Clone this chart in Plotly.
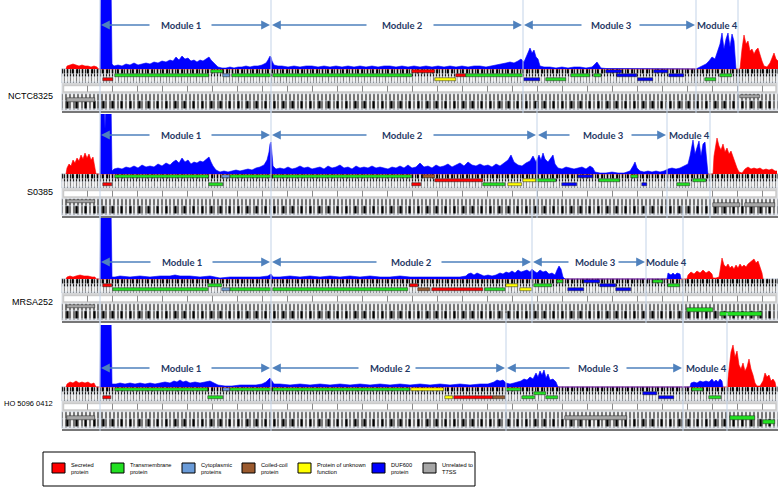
import plotly.graph_objects as go

W, H = 778, 487

genomes = ["NCTC8325", "S0385", "MRSA252", "HO 5096 0412"]

# ---------------- coverage profiles: (position, depth) ----------------
p1_blue = [(100,0),(101,90),(102,80),(103,90),(104,76),(105,90),(106,82),(107,90),(108,78),(109,90),(110,85),(111,90),(112,5),
(114,3),(118,4),(122,3),(126,5),(130,4),(134,6),(138,4),(142,5),(146,6),(150,5),(154,7),(158,6),(162,8),(166,7),(170,9),(173,8),(176,12),(179,9),(182,13),(185,10),(188,11),(191,8),(194,9),(197,7),(200,9),(203,8),(206,10),(209,12),(211,9),(214,6),(218,2),(222,1),(226,1),(230,2),(234,1),(238,2),(242,2),(246,3),(250,2),(254,3),(258,3),(262,4),(266,6),(268,9),(270,13),(271,12),(272,8),(274,4),(278,3),
(282,3),(288,2),(294,3),(300,2),(306,3),(312,3),(318,2),(324,3),(330,2),(336,3),(342,2),(348,3),(354,2),(360,3),(366,2),(372,3),(378,2),(384,3),(390,3),(396,2),(402,3),(408,2),(414,3),(420,2),(426,3),(432,2),(438,3),(444,2),(450,3),(456,2),(462,3),(468,2),(474,3),(480,3),(486,2),(492,3),(498,4),(502,5),(506,6),(510,7),(514,6),(518,8),(521,10),(524,7),(526,12),(528,18),(530,21),(532,16),(534,19),(536,12),(538,10),(540,3),(544,2),(550,2),(556,1),(562,2),(568,1),(574,2),(580,2),(586,1),(592,2),(595,5),(597,7),(599,4),(601,1),(606,0.5),(640,0.5),(680,0.3),(696,0),
(698,1),(702,3),(706,5),(709,8),(712,12),(715,10),(718,18),(720,25),(722,36),(724,20),(726,30),(728,36),(730,22),(732,35),(734,28),(736,0)]
p1_red = [(66,0),(67,3),(70,4),(73,5),(76,4),(79,3),(82,4),(85,3),(88,3),(91,2),(94,3),(97,2),(98,0),
(740,0),(742,20),(744,34),(746,25),(748,28),(750,18),(752,20),(754,15),(756,19),(758,21),(760,14),(762,8),(764,3),(767,2),(770,6),(772,12),(774,16),(776,10),(778,8)]

p2_blue = [(100,0),(101,75),(104,75),(105,45),(106,75),(111,75),(112,3),(114,5),(118,6),(122,5),(126,7),(130,6),(134,8),(138,6),(142,9),(146,7),(150,8),(154,7),(158,10),(162,8),(166,11),(170,9),(173,12),(176,14),(179,11),(182,16),(185,12),(188,14),(191,10),(194,12),(197,11),(200,13),(203,12),(206,15),(209,17),(211,12),(213,8),(216,4),(220,2),(224,3),(228,2),(232,3),(236,4),(240,3),(244,4),(248,5),(252,4),(256,6),(260,7),(264,9),(267,14),(269,22),(270,30),(271,32),(272,20),(273,8),(276,5),(280,6),(284,5),(288,7),(292,5),(296,6),(300,8),(304,6),(308,7),(312,5),(316,6),(320,7),(324,5),(328,8),(332,6),(336,7),(340,9),(344,6),(348,7),(352,5),(356,8),(360,6),(364,7),(368,6),(372,8),(376,6),(380,7),(384,6),(388,5),(392,7),(396,6),(400,8),(404,6),(408,9),(412,6),(416,7),(420,11),(424,7),(428,8),(432,6),(436,9),(440,7),(444,8),(448,10),(452,7),(456,9),(460,11),(464,8),(468,12),(472,9),(476,8),(480,10),(484,8),(488,9),(492,7),(496,10),(500,8),(504,11),(508,14),(511,19),(514,12),(518,9),(522,8),(526,11),(530,13),(533,18),(536,12),(539,19),(541,14),(543,21),(545,15),(548,12),(551,17),(553,19),(555,10),(558,6),(562,5),(566,7),(570,6),(574,5),(578,6),(582,7),(586,5),(590,8),(593,6),(595,2),(600,1),(606,1),(612,2),(618,1),(624,1),(630,3),(633,8),(635,12),(637,6),(640,3),(644,2),(648,3),(652,2),(656,3),(660,2),(664,3),(668,5),(672,6),(676,5),(680,6),(684,8),(688,10),(690,18),(692,28),(693,34),(695,20),(697,26),(699,33),(701,18),(703,30),(705,32),(707,14),(708,0)]
p2_red = [(66,0),(67,6),(69,10),(71,8),(73,14),(75,11),(77,16),(79,13),(81,19),(83,15),(85,21),(87,16),(89,20),(91,14),(93,17),(95,6),(96,0),
(713,0),(714,18),(716,30),(717,36),(719,28),(721,24),(723,30),(725,22),(727,26),(729,20),(731,23),(733,17),(735,12),(737,6),(739,2),(742,1),(745,5),(748,7),(751,5),(754,6),(757,5),(760,6),(763,4),(766,5),(769,4),(772,5),(775,3),(777,3)]

p3_blue = [(100,0),(101,75),(111,75),(112,2),(115,2),(120,3),(130,2),(140,3),(150,2),(160,3),(170,3),(175,4),(180,3),(190,3),(200,2),(210,3),(220,1),(230,2),(240,2),(250,2),(260,2),(268,3),(271,5),(273,2),(280,2),(290,3),(300,2),(310,3),(320,2),(330,3),(340,2),(350,3),(360,2),(370,3),(380,2),(390,2),(400,3),(410,2),(420,2),(430,2),(440,2),(450,2),(460,2),(466,3),(468,5),(471,6),(474,4),(477,6),(480,5),(484,3),(488,4),(492,3),(496,4),(500,6),(503,5),(506,7),(509,6),(512,8),(515,6),(518,9),(521,7),(524,8),(527,9),(530,7),(532,10),(534,8),(537,6),(540,9),(543,7),(546,8),(549,5),(552,6),(555,4),(557,9),(559,13),(561,10),(563,2),(565,0),
(667,0),(668,6),(671,4),(673,6),(675,4),(677,6),(680,5),(681,0)]
p3_red = [(66,0),(67,2),(70,3),(73,2),(76,3),(80,4),(84,3),(88,3),(92,2),(95,2),(96,0),
(687,0),(688,4),(691,7),(694,5),(697,8),(700,6),(703,9),(706,6),(709,8),(712,5),(713,1),(716,1),(719,2),(720,8),(721,18),(722,21),(724,14),(726,12),(728,15),(730,11),(732,13),(734,10),(736,14),(738,11),(740,15),(742,12),(744,14),(746,12),(748,15),(750,17),(752,19),(754,20),(756,16),(758,18),(760,12),(762,6),(763,0)]

p4_blue = [(100,0),(101,75),(111,75),(112,3),(116,3),(120,4),(125,3),(130,4),(135,3),(140,4),(145,3),(150,4),(155,3),(160,4),(165,5),(170,4),(174,6),(177,5),(180,7),(183,5),(186,6),(190,4),(195,5),(200,4),(205,5),(210,6),(214,4),(218,2),(225,1),(232,1),(240,2),(248,2),(256,2),(262,3),(266,5),(268,7),(270,9),(272,6),(274,3),(280,3),(290,2),(300,3),(310,2),(320,3),(330,2),(340,3),(350,2),(360,3),(370,2),(380,3),(390,2),(400,3),(410,2),(420,3),(430,2),(440,3),(450,2),(460,3),(470,2),(480,3),(488,3),(494,5),(497,7),(500,6),(503,7),(506,4),(510,3),(514,4),(518,5),(521,6),(524,8),(527,7),(530,10),(533,8),(536,14),(538,10),(540,16),(542,12),(544,17),(546,9),(548,13),(550,7),(553,8),(556,5),(558,0),
(690,0),(691,4),(694,5),(697,4),(700,6),(703,5),(706,6),(709,5),(712,8),(714,5),(716,7),(718,5),(720,8),(722,6),(723,0)]
p4_red = [(66,0),(67,3),(70,5),(73,4),(76,6),(79,4),(82,5),(85,4),(88,5),(91,3),(94,4),(96,0),
(727,0),(729,20),(731,35),(733,42),(735,30),(737,36),(739,22),(741,18),(743,24),(745,16),(747,20),(749,28),(751,18),(753,12),(755,4),(757,1),(760,1),(763,6),(765,14),(767,10),(769,12),(771,6),(773,8),(775,5),(776,0)]

# ---------------- genes: (start, end, row, category) ----------------
p1_genes = [(103,113,'C','sec'),(115,209,'B','tm'),(211,223,'A','tm'),(223,230,'B','cyto'),(232,271,'B','tm'),
(273,412,'B','tm'),(412,435,'A','sec'),(435,456,'C','unk'),(456,466,'B','sec'),(466,523,'B','tm'),
(524,540,'C','duf'),(546,566,'C','tm'),(571,590,'B','tm'),(594,601,'B','tm'),(606,622,'A','duf'),
(617,637,'B','duf'),(638,653,'C','duf'),(654,668,'A','duf'),(669,684,'B','duf'),(705,716,'C','tm'),
(720,732,'B','tm'),(67,95,'L1','unrel'),(740,760,'L0','unrel')]
p2_genes = [(103,112,'C','sec'),(115,209,'A','tm'),(209,223,'C','tm'),(222,230,'A','cyto'),(230,271,'A','tm'),
(273,412,'A','tm'),(412,421,'C','sec'),(423,435,'A','cc'),(435,483,'B','sec'),(483,505,'C','tm'),
(508,522,'C','unk'),(523,536,'B','unk'),(536,556,'B','tm'),(562,577,'C','duf'),(578,593,'A','duf'),
(599,620,'B','tm'),(631,638,'A','tm'),(642,647,'C','duf'),(677,690,'C','tm'),(693,706,'B','tm'),
(67,95,'L0','unrel'),(713,740,'L1','unrel'),(745,775,'L1','unrel')]
p3_genes = [(103,112,'B','sec'),(113,208,'C','tm'),(208,222,'B','tm'),(222,230,'C','cyto'),(230,271,'C','tm'),
(273,408,'C','tm'),(410,418,'B','sec'),(418,430,'C','cc'),(432,483,'C','sec'),(485,505,'C','tm'),
(506,518,'B','unk'),(520,532,'C','unk'),(534,552,'B','tm'),(557,563,'A','tm'),(568,584,'C','duf'),
(584,600,'A','duf'),(600,616,'B','duf'),(616,631,'C','duf'),(653,663,'A','tm'),(668,680,'B','tm'),
(67,95,'L0','unrel'),(687,713,'L1','tm'),(720,762,'L2','tm')]
p4_genes = [(103,111,'C','sec'),(115,208,'A','tm'),(208,223,'C','tm'),(223,230,'A','cyto'),(230,271,'A','tm'),
(273,410,'A','tm'),(411,444,'A','unk'),(445,453,'C','unk'),(454,493,'C','sec'),(493,505,'C','cc'),
(506,521,'A','tm'),(522,535,'C','tm'),(534,546,'B','tm'),(546,558,'C','tm'),(643,657,'B','duf'),
(659,674,'C','duf'),(692,703,'A','tm'),(709,721,'C','tm'),(67,95,'L1','unrel'),(565,627,'L1','unrel'),
(730,755,'L1','tm'),(763,775,'L2','tm')]

# ---------------- modules ----------------
p1_bounds = [100, 271, 523, 696, 738]
p2_bounds = [100, 271, 537, 667, 710]
p3_bounds = [100, 271, 532, 646, 683]
p4_bounds = [100, 271, 506, 683, 727]
p1_label_x = [181, 402, 611, 717]
p2_label_x = [181, 402, 603, 689]
p3_label_x = [182, 411, 595, 666]
p4_label_x = [181, 390, 598, 706]
p1_tails = [(151, 210), (368, 432), (583, 638)]
p2_tails = [(151, 210), (368, 432), (571, 630)]
p3_tails = [(152, 211), (378, 440), (570, 617)]
p4_tails = [(151, 210), (360, 414), (571, 625)]
module_names = ["Module 1", "Module 2", "Module 3", "Module 4"]

# ---------------- legend categories ----------------
cat_keys = ['sec', 'tm', 'cyto', 'cc', 'unk', 'duf', 'unrel']
cat_labels = ["Secreted<br>protein", "Transmembrane<br>protein", "Cytoplasmic<br>proteins",
              "Coiled-coil<br>protein", "Protein of unknown<br>function", "DUF600<br>protein",
              "Unrelated to<br>T7SS"]
cat_colors = ["#FF0000", "#22E022", "#6A9BD8", "#9B5A2E", "#FFFF00", "#0000FF", "#A6A6A6"]
color_of = dict(zip(cat_keys, cat_colors))

# ---------------- layout geometry (pixels) ----------------
panels_px = [(0, 69, 114), (114, 174, 218), (218, 279, 325), (325, 387, 432)]  # top, baseline, bottom
arrow_y = [44, 39, 17, 19]
label_py = [89, 192, 302, 410]
label_size = [9, 9, 9, 7.5]
row_y = {'A': -2.5, 'B': -6.5, 'C': -10.5, 'L0': -27.5, 'L1': -31, 'L2': -35}
X0, X1 = 62, 778

blues = [p1_blue, p2_blue, p3_blue, p4_blue]
reds = [p1_red, p2_red, p3_red, p4_red]
genes = [p1_genes, p2_genes, p3_genes, p4_genes]
bounds = [p1_bounds, p2_bounds, p3_bounds, p4_bounds]
label_xs = [p1_label_x, p2_label_x, p3_label_x, p4_label_x]
tails = [p1_tails, p2_tails, p3_tails, p4_tails]


def py(p):
    return 1 - p / H


def pxf(p):
    return p / W


def barcode(color_bg, size, solidity, fg='#1A1A1A'):
    return dict(color=color_bg, pattern=dict(shape='|', size=size, solidity=solidity,
                                             fgcolor=fg, bgcolor=color_bg, fillmode='replace'))


fig = go.Figure()
shapes = []
annotations = []
layout_axes = {}

for i in range(4):
    top, base, bot = panels_px[i]
    yname = 'y' if i == 0 else f'y{i+1}'
    ykey = 'yaxis' if i == 0 else f'yaxis{i+1}'
    layout_axes[ykey] = dict(domain=[py(bot), py(top)], range=[-(bot - base), base - top],
                             visible=False, fixedrange=True)
    common = dict(xaxis='x', yaxis=yname, hoverinfo='skip', showlegend=False, orientation='h')
    # track background
    fig.add_trace(go.Bar(base=[X0], x=[X1 - X0], y=[-21], width=[42], marker=dict(color='#D3D3D3'), **common))
    # upper gene barcode (three strand rows)
    fig.add_trace(go.Bar(base=[X0], x=[X1 - X0], y=[-7], width=[14], marker=barcode('#F4F4F4', 3, 0.42), **common))
    fig.add_trace(go.Bar(base=[X0], x=[X1 - X0], y=[-2.5], width=[5], marker=barcode('rgba(0,0,0,0)', 5, 0.3, '#000000'), **common))
    fig.add_trace(go.Bar(base=[X0], x=[X1 - X0], y=[-10.5], width=[5], marker=barcode('rgba(255,255,255,0.45)', 7, 0.5, 'rgba(255,255,255,0.5)'), **common))
    # ruler
    fig.add_trace(go.Bar(base=[X0 + 2], x=[X1 - X0 - 4], y=[-19.5], width=[6],
                         marker=dict(color='white', line=dict(color='#A8A8A8', width=0.5),
                                     pattern=dict(shape='|', size=25, solidity=0.04, fgcolor='#8A8A8A',
                                                  bgcolor='white', fillmode='replace')), **common))
    # lower barcode
    fig.add_trace(go.Bar(base=[X0], x=[X1 - X0], y=[-33], width=[16], marker=barcode('#EFEFEF', 4, 0.3, '#262626'), **common))
    fig.add_trace(go.Bar(base=[X0], x=[X1 - X0], y=[-36], width=[8], marker=barcode('rgba(0,0,0,0)', 9, 0.25, '#000000'), **common))
    # genes by category
    for k in cat_keys:
        gs = [g for g in genes[i] if g[3] == k]
        if not gs:
            continue
        fig.add_trace(go.Bar(base=[g[0] for g in gs], x=[g[1] - g[0] for g in gs],
                             y=[row_y[g[2]] for g in gs], width=[3.4] * len(gs),
                             marker=dict(color=color_of[k], line=dict(color='#222222', width=0.5)), **common))
    # coverage
    for prof, col in ((reds[i], '#FF0000'), (blues[i], '#0000FF')):
        xs, ys = zip(*prof)
        fig.add_trace(go.Scatter(x=list(xs), y=list(ys), mode='lines', fill='tozeroy',
                                 line=dict(color=col, width=0.6), fillcolor=col,
                                 xaxis='x', yaxis=yname, hoverinfo='skip', showlegend=False))
    # bottom rule of the panel
    shapes.append(dict(type='line', xref='x', yref=yname, x0=X0, x1=X1, y0=-43, y1=-43,
                       line=dict(color='#4A4A4A', width=1.5)))
    # module boundary lines
    for b in bounds[i]:
        shapes.append(dict(type='line', xref='x', yref='paper', x0=b, x1=b,
                           y0=py(base + 44), y1=min(1, py(top - 12)),
                           line=dict(color='#C3D3E8', width=1), layer='above'))
    # module labels
    for m in range(4):
        annotations.append(dict(x=label_xs[i][m], y=arrow_y[i], xref='x', yref=yname, text=module_names[m],
                                showarrow=False,
                                font=dict(family='Lato, Open Sans', size=9.5, color='#1F3864', weight='bold')))
    # module arrows
    for m in range(3):
        lt, rt = tails[i][m]
        for head, tail in ((bounds[i][m] + 1, lt), (bounds[i][m + 1] - 1, rt)):
            annotations.append(dict(x=head, y=arrow_y[i], xref='x', yref=yname, ax=tail, ay=arrow_y[i],
                                    axref='x', ayref=yname, text='', showarrow=True, arrowhead=2,
                                    arrowsize=1.1, arrowwidth=1.6, arrowcolor='#4F81BD',
                                    standoff=0, startstandoff=0))
    # genome name
    annotations.append(dict(x=pxf(55), y=py(label_py[i]), xref='paper', yref='paper', xanchor='right',
                            text=genomes[i], showarrow=False,
                            font=dict(family='Liberation Sans, Arial', size=label_size[i], color='black')))

# ---------------- legend box ----------------
shapes.append(dict(type='rect', xref='paper', yref='paper', x0=pxf(43), x1=pxf(475), y0=py(486), y1=py(452),
                   line=dict(color='black', width=1), fillcolor='white'))
swatch_px = [52, 111, 182, 242, 298, 372, 423]
for j, k in enumerate(cat_keys):
    sx = swatch_px[j]
    shapes.append(dict(type='rect', xref='paper', yref='paper', x0=pxf(sx), x1=pxf(sx + 13),
                       y0=py(473), y1=py(463), line=dict(color='black', width=1), fillcolor=cat_colors[j]))
    annotations.append(dict(x=pxf(sx + 17), y=py(468), xref='paper', yref='paper', xanchor='left',
                            yanchor='middle', align='left', text=cat_labels[j], showarrow=False,
                            font=dict(family='Liberation Sans, Arial', size=5.7, color='black')))

fig.update_layout(
    width=W, height=H, margin=dict(l=0, r=0, t=0, b=0),
    paper_bgcolor='white', plot_bgcolor='rgba(0,0,0,0)',
    barmode='overlay', bargap=0,
    xaxis=dict(domain=[0, 1], range=[0, W], visible=False, fixedrange=True),
    shapes=shapes, annotations=annotations, showlegend=False,
    **layout_axes,
)

fig.write_html("out.html", config={'displayModeBar': False},
               post_script="document.body.style.margin='0px';document.body.style.overflow='hidden';")
